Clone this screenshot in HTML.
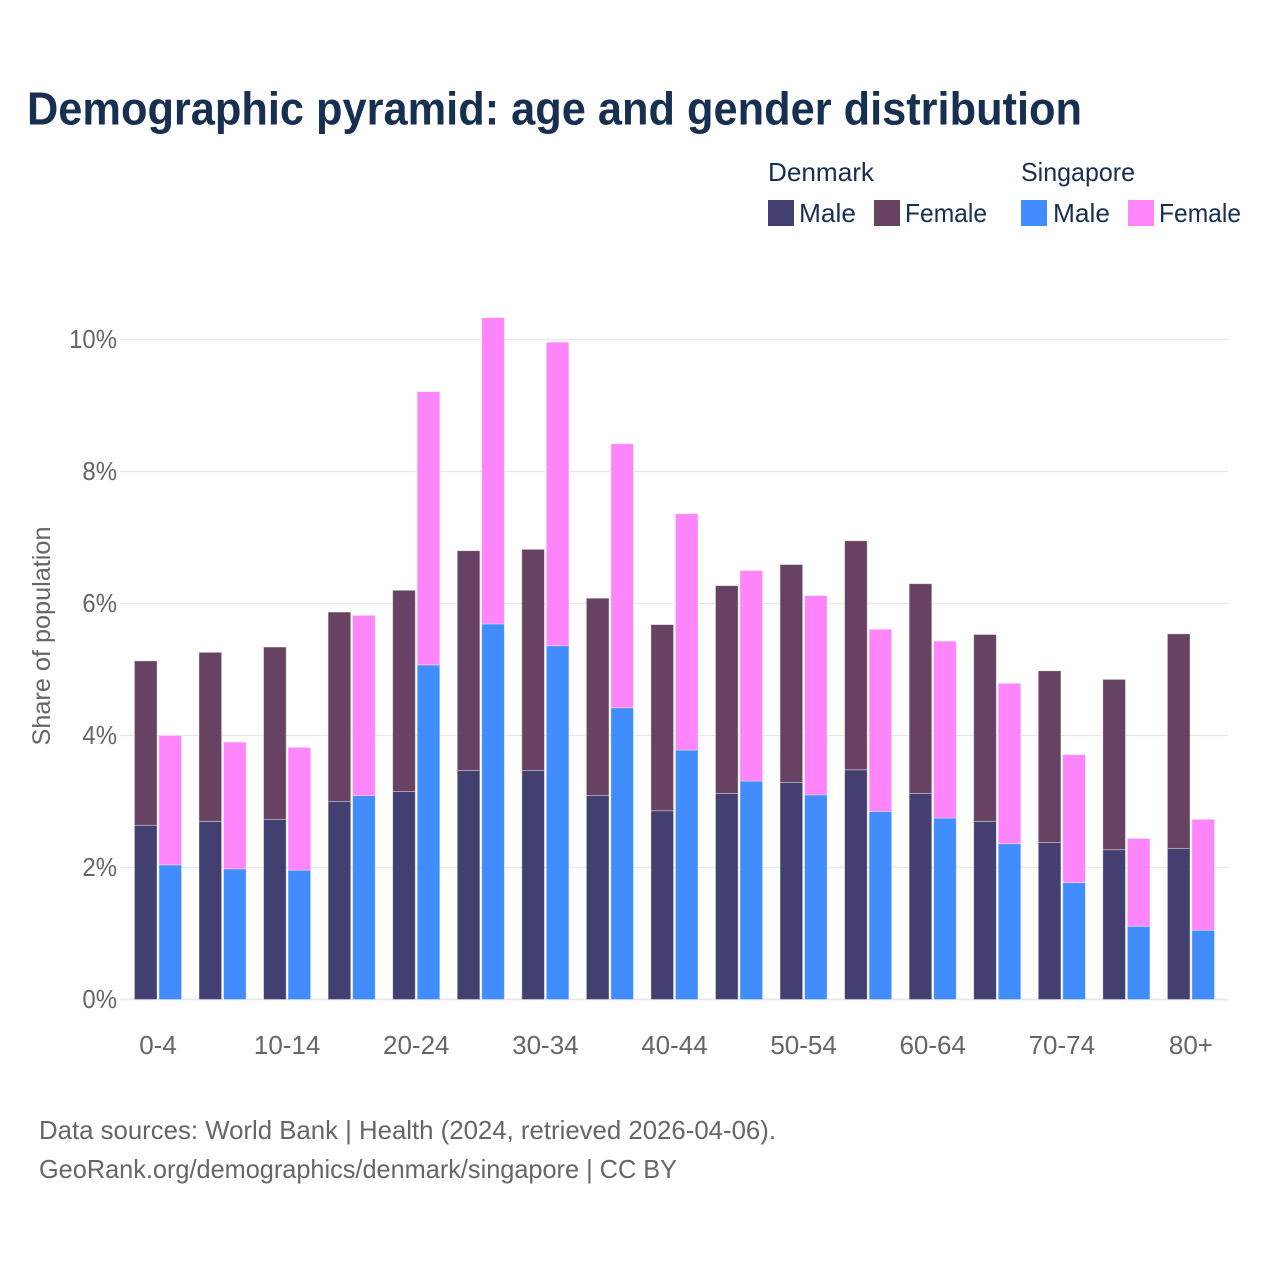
<!DOCTYPE html>
<html lang="en">
<head>
<meta charset="utf-8">
<title>Demographic pyramid: age and gender distribution</title>
<style>
  html, body { margin: 0; padding: 0; background: #fff; }
  svg { display: block; font-family: "Liberation Sans", "DejaVu Sans", sans-serif; }
</style>
</head>
<body>
<svg id="chart" width="1280" height="1280" viewBox="0 0 1280 1280" xmlns="http://www.w3.org/2000/svg">
  <rect width="1280" height="1280" fill="#ffffff"/>
  <text x="27" y="124.5" font-size="46" font-weight="700" fill="#172F50" textLength="1055" lengthAdjust="spacingAndGlyphs">Demographic pyramid: age and gender distribution</text>

  <g font-size="26" fill="#172F50">
    <text x="768" y="181" textLength="106" lengthAdjust="spacingAndGlyphs">Denmark</text>
    <text x="1021" y="181" textLength="114" lengthAdjust="spacingAndGlyphs">Singapore</text>
    <rect x="768" y="200" width="26" height="26" fill="#433F71"/>
    <text x="799" y="222" textLength="57" lengthAdjust="spacingAndGlyphs">Male</text>
    <rect x="874" y="200" width="26" height="26" fill="#684262"/>
    <text x="905" y="222" textLength="82" lengthAdjust="spacingAndGlyphs">Female</text>
    <rect x="1021" y="200" width="26" height="26" fill="#418CFF"/>
    <text x="1053" y="222" textLength="57" lengthAdjust="spacingAndGlyphs">Male</text>
    <rect x="1128" y="200" width="26" height="26" fill="#FF85FA"/>
    <text x="1159" y="222" textLength="82" lengthAdjust="spacingAndGlyphs">Female</text>
  </g>

  <g id="grid"></g>
  <g id="y-axis"></g>
  <g id="bars"></g>
  <g id="x-axis"></g>

  <text transform="translate(50,636) rotate(-90)" text-anchor="middle" font-size="25" fill="#666666" textLength="219" lengthAdjust="spacingAndGlyphs">Share of population</text>

  <text x="39" y="1139" font-size="26" fill="#666666" textLength="737" lengthAdjust="spacingAndGlyphs">Data sources: World Bank | Health (2024, retrieved 2026-04-06).</text>
  <text x="39" y="1178" font-size="26" fill="#666666" textLength="638" lengthAdjust="spacingAndGlyphs">GeoRank.org/demographics/denmark/singapore | CC BY</text>
</svg>
<script>
const categories = ["0-4","5-9","10-14","15-19","20-24","25-29","30-34","35-39","40-44","45-49","50-54","55-59","60-64","65-69","70-74","75-79","80+"];
const denmarkMale = [2.64,2.70,2.73,3.00,3.15,3.47,3.47,3.09,2.86,3.12,3.29,3.48,3.12,2.70,2.38,2.27,2.29];
const denmarkFemale = [2.49,2.56,2.61,2.87,3.05,3.33,3.35,2.99,2.82,3.15,3.30,3.47,3.18,2.83,2.60,2.58,3.25];
const singaporeMale = [2.04,1.98,1.96,3.09,5.07,5.69,5.36,4.42,3.78,3.31,3.10,2.85,2.75,2.36,1.77,1.11,1.05];
const singaporeFemale = [1.96,1.92,1.86,2.73,4.14,4.64,4.60,4.00,3.58,3.19,3.02,2.76,2.68,2.43,1.94,1.33,1.68];
const yTicks = [0,2,4,6,8,10];
const xTickLabels = ["0-4","10-14","20-24","30-34","40-44","50-54","60-64","70-74","80+"];

const NS = "http://www.w3.org/2000/svg";
function yScale(v) { return 999.5 - 66 * v; }
function groupCenter(i) { return 158 + 64.56 * i; }
const barWidth = 22.6;
const barGap = 1.9;
function mk(tag, attrs, parent) {
  const el = document.createElementNS(NS, tag);
  for (const k in attrs) el.setAttribute(k, attrs[k]);
  parent.appendChild(el);
  return el;
}

const gridG = document.getElementById("grid");
const yG = document.getElementById("y-axis");
yTicks.forEach(function (t) {
  const line = mk("line", {x1: 120, x2: 1228, y1: yScale(t), y2: yScale(t), stroke: "#e8e8e8", "stroke-width": t === 0 ? 2 : 1.2}, gridG);
  
  
  const label = mk("text", {x: 117, y: yScale(t) + 8.5, "text-anchor": "end", "font-size": 26, fill: "#666666"}, yG);
  label.textContent = t + "%";
  
  
  label.setAttribute('textLength', label.getComputedTextLength() * 0.92);
  label.setAttribute('lengthAdjust', 'spacingAndGlyphs');
});

const barsG = document.getElementById("bars");
function drawBar(i, x, base, value, color, name) {
  const top = yScale(base + value);
  const rect = mk("rect", {x: x, y: top, width: barWidth, height: yScale(base) - top, fill: color, stroke: "#ffffff", "stroke-opacity": 0.45, "stroke-width": 0.8}, barsG);
  
  
}
categories.forEach(function (c, i) {
  const cx = groupCenter(i);
  const xD = cx - barGap / 2 - barWidth;
  const xS = cx + barGap / 2;
  drawBar(i, xD, 0, denmarkMale[i], "#433F71", "denmark-male");
  drawBar(i, xD, denmarkMale[i], denmarkFemale[i], "#684262", "denmark-female");
  drawBar(i, xS, 0, singaporeMale[i], "#418CFF", "singapore-male");
  drawBar(i, xS, singaporeMale[i], singaporeFemale[i], "#FF85FA", "singapore-female");
});

const xG = document.getElementById("x-axis");
xTickLabels.forEach(function (lab) {
  const i = categories.indexOf(lab);
  const t = mk("text", {x: groupCenter(i), y: 1054, "text-anchor": "middle", "font-size": 26, fill: "#666666"}, xG);
  t.textContent = lab;
  
  
});
</script>
</body>
</html>
